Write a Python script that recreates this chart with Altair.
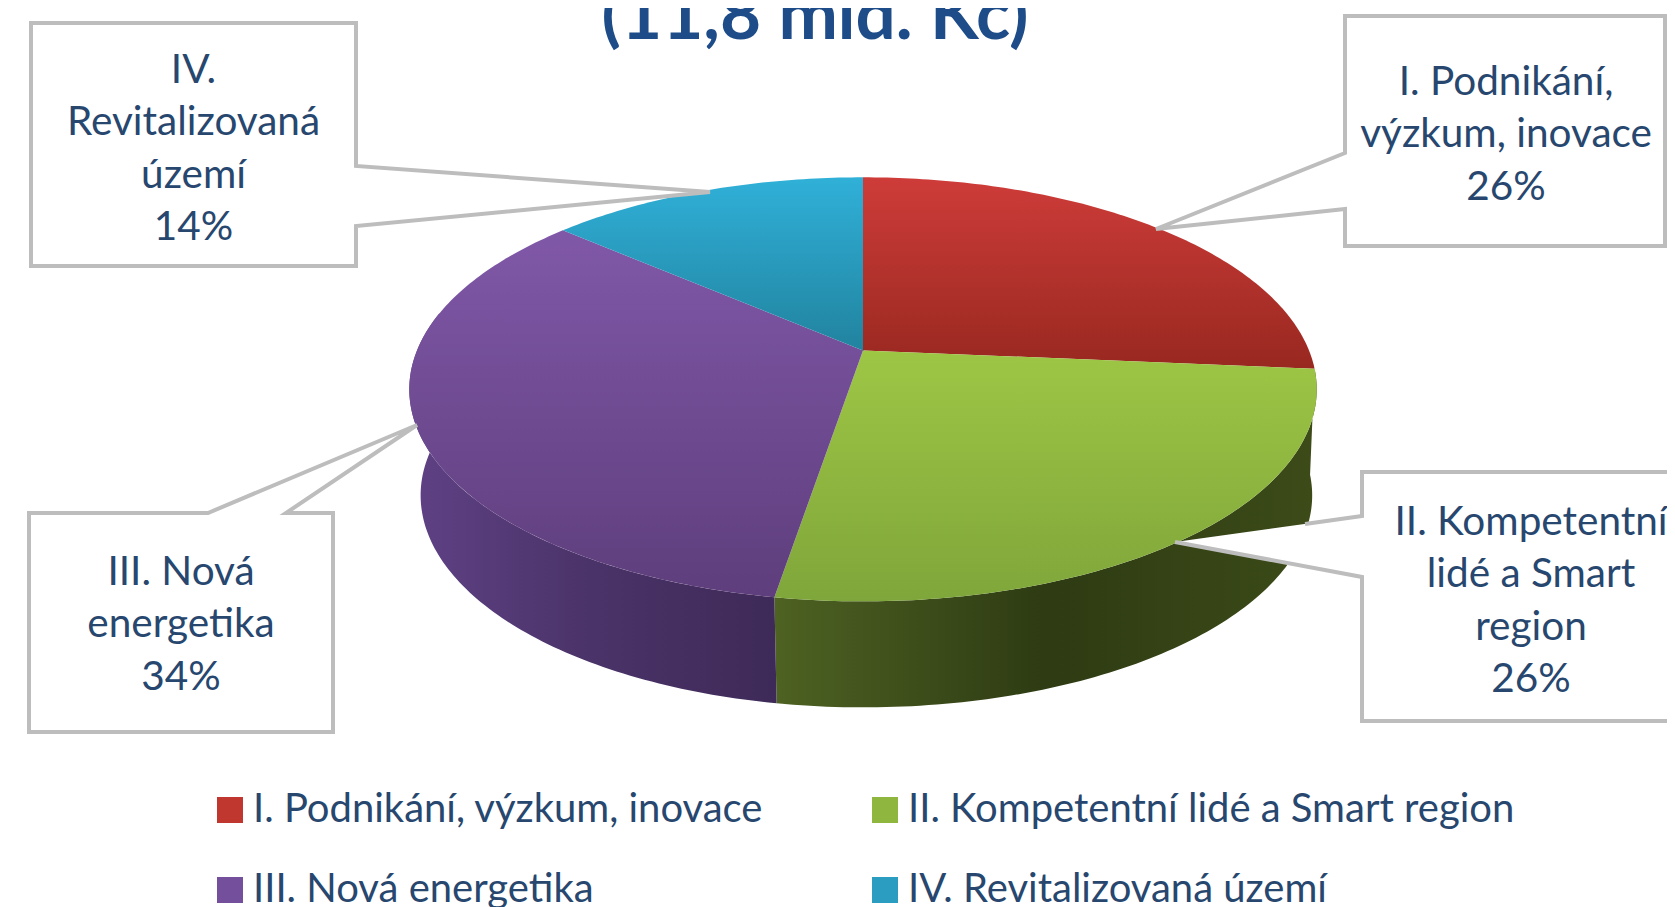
import math
import altair as alt
import pandas as pd

# ---- chart values ----
names = ["I. Podnikání, výzkum, inovace", "II. Kompetentní lidé a Smart region",
         "III. Nová energetika", "IV. Revitalizovaná území"]
shares = [26.4, 26.2, 33.8, 13.6]
callout_text = ["I. Podnikání,\nvýzkum, inovace\n26%",
                "II. Kompetentní\nlidé a Smart\nregion\n26%",
                "III. Nová\nenergetika\n34%",
                "IV.\nRevitalizovaná\núzemí\n14%"]
title_text = "(11,8 mld. Kč)"

# ---- styling ----
legend_colors = ["#C0372F", "#8FB63F", "#744F9B", "#2A9DC0"]
face_grad = [("#CE3C39", "#982820"), ("#9EC645", "#7FA63A"),
             ("#8058A8", "#5E3E7C"), ("#30B0D8", "#21839F")]
wall_grad = {1: ("#4E6222", "#2E3B13", "#3C4B18"), 2: ("#5F4185", "#4A3368", "#3E2A58")}
TEXT = "#27476F"
BOX = "#BDBDBD"
FONT = "Lato"

W, H = 1659, 899
xs = alt.Scale(domain=[8, 8 + W], range=[0, W], nice=False, zero=False)
ys = alt.Scale(domain=[8, 8 + H], range=[0, H], nice=False, zero=False)
X = alt.X("x:Q", scale=xs, axis=None)
Y = alt.Y("y:Q", scale=ys, axis=None)

# ---- perspective view of the pie disc ----
CX, CY, PA, PC, PD, DEPTH = 863.0, 350.4, 140.5, -0.1837, 446.0, 106.0
LOWER_LEFT, LOWER_RIGHT = 0.975, 0.99


def project(share_pos, drop=0.0, lower=False):
    t = share_pos / 100 * 2 * math.pi
    u, v = math.sin(t), -math.cos(t)
    k = 1 + PC * v
    shrink = 1.0
    if lower:
        shrink = LOWER_LEFT if u < 0 else LOWER_RIGHT
    return CX + shrink * PD * u / k, (PA * v + CY) / k + drop


def sweep(a, b, drop=0.0, lower=False, step=0.25):
    n = max(2, int(abs(b - a) / step))
    return [project(a + (b - a) * i / n, drop, lower) for i in range(n + 1)]


def closed(points):
    df = pd.DataFrame(points, columns=["x", "y"])
    df["i"] = range(len(df))
    return df


def polygon(points, interpolate="linear-closed", **mark):
    return alt.Chart(closed(points)).mark_line(interpolate=interpolate, **mark).encode(
        x=X, y=Y, order="i:Q")


def vgrad(c):
    return alt.Gradient(gradient="linear", x1=0, y1=0, x2=0, y2=1,
                        stops=[alt.GradientStop(color=c[0], offset=0),
                               alt.GradientStop(color=c[1], offset=1)])


def hgrad(c):
    return alt.Gradient(gradient="linear", x1=0, y1=0, x2=1, y2=0,
                        stops=[alt.GradientStop(color=c[0], offset=0),
                               alt.GradientStop(color=c[1], offset=0.5),
                               alt.GradientStop(color=c[2], offset=1)])


starts = [sum(shares[:i]) for i in range(len(shares))]
ends = [sum(shares[:i + 1]) for i in range(len(shares))]
layers = []

# legend carrier, hidden under the faces
legend_df = pd.DataFrame({"name": names, "x": [CX] * 4, "y": [CY] * 4})
layers.append(alt.Chart(legend_df).mark_square(size=1, opacity=1).encode(
    x=X, y=Y,
    color=alt.Color("name:N", scale=alt.Scale(domain=names, range=legend_colors),
                    legend=alt.Legend(title=None, orient="none", legendX=202, legendY=782,
                                      direction="horizontal", columns=2, symbolType="square",
                                      symbolSize=676, symbolStrokeWidth=0, labelFont=FONT,
                                      labelFontSize=40, labelColor=TEXT, labelLimit=700,
                                      labelOffset=3, columnPadding=101, rowPadding=40,
                                      gridAlign="each", symbolOpacity=1))))

# side walls: green and purple slices, outer edge only
wall_end = {1: ends[1], 2: 78.0}
for idx in (1, 2):
    top = sweep(starts[idx], wall_end[idx])
    bot = sweep(wall_end[idx], starts[idx], DEPTH, True)
    layers.append(polygon(top + bot, fill=hgrad(wall_grad[idx]), stroke=None))

# top faces
for idx in range(4):
    pts = [(CX, CY)] + sweep(starts[idx], ends[idx])
    layers.append(polygon(pts, fill=vgrad(face_grad[idx]), stroke=None))

# callouts: white body, then the visible border
callouts = [
    [(1345, 16), (1665, 16), (1665, 246), (1345, 246), (1345, 209), (1156, 229), (1345, 153)],
    [(1362, 472), (1690, 472), (1690, 721), (1362, 721), (1362, 577), (1175, 542), (1362, 516)],
    [(29, 513), (208, 513), (417, 425), (286, 513), (333, 513), (333, 732), (29, 732)],
    [(31, 23), (356, 23), (356, 166), (710, 192), (356, 226), (356, 266), (31, 266)],
]
for n, c in enumerate(callouts):
    if n == 1:
        layers.append(polygon(c, fill="white", stroke=None))
        border = [(1305, 524), (1362, 516), (1362, 472), (1690, 472), (1690, 721),
                  (1362, 721), (1362, 577), (1175, 542)]
        layers.append(polygon(border, interpolate="linear", stroke=BOX, strokeWidth=4,
                              strokeJoin="miter"))
    else:
        layers.append(polygon(c, fill="white", stroke=BOX, strokeWidth=4, strokeJoin="miter"))

# callout text (y is the first line's centre)
label_df = pd.DataFrame({"x": [1506, 1531, 181, 193.5], "y": [82.5, 522.5, 572.5, 70.5],
                         "t": callout_text})
layers.append(alt.Chart(label_df).mark_text(
    font=FONT, fontSize=40.5, color=TEXT, align="center", baseline="middle",
    lineBreak="\n", lineHeight=52.5).encode(x=X, y=Y, text="t:N"))

# clipped title line
title_df = pd.DataFrame({"x": [815], "y": [39], "t": [title_text]})
layers.append(alt.Chart(title_df).mark_text(
    font=FONT, fontSize=71, fontWeight="bold", color="#1D4C89", align="center",
    baseline="alphabetic").encode(x=X, y=Y, text="t:N"))

chart = alt.layer(*layers).properties(
    width=W, height=H, padding=0, autosize=alt.AutoSizeParams(type="none")
).configure_view(stroke=None)

chart.save("out.html", embed_options={"renderer": "svg", "actions": False})
